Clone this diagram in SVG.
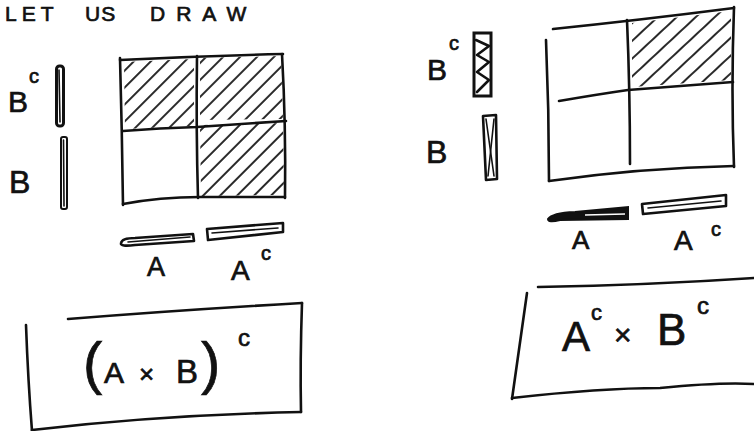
<svg xmlns="http://www.w3.org/2000/svg" width="754" height="431" viewBox="0 0 754 431">
<style>
.s{fill:none;stroke:#111;stroke-width:2.6;stroke-linecap:round;stroke-linejoin:round}
.t{stroke:#111;stroke-width:1.6;fill:none;stroke-linecap:round}
.h{fill:url(#hatch);stroke:none}
.h2{fill:url(#hatch2);stroke:none}
text{font-family:"Liberation Sans","DejaVu Sans",sans-serif;fill:#111;stroke:#111;stroke-width:0.7}
</style>
<defs>
<pattern id="hatch" patternUnits="userSpaceOnUse" width="12" height="12" patternTransform="rotate(45)">
<line x1="6" y1="0" x2="6" y2="12" stroke="#111" stroke-width="1.8"/>
</pattern>
<pattern id="hatch2" patternUnits="userSpaceOnUse" width="13" height="13" patternTransform="rotate(47)">
<line x1="6" y1="0" x2="6" y2="13" stroke="#111" stroke-width="1.8"/>
</pattern>
</defs>
<rect width="754" height="431" fill="#fff"/>

<g id="title">
<text font-size="21"><tspan x="5" y="21" letter-spacing="5">LET</tspan><tspan x="85" y="21" letter-spacing="1">US</tspan><tspan x="150" y="21" letter-spacing="11">DRAW</tspan></text>
</g>

<g id="left-grid">
<polygon class="h" points="124,62 194,59 194,126 125,129"/>
<polygon class="h" points="200,58 281,56 283,119 200,120"/>
<polygon class="h" points="200,125 283,123 284,195 201,196"/>
<path class="s" d="M120,60 Q200,56 283,54"/>
<path class="s" d="M282,54 Q286,125 285,198"/>
<path class="s" d="M123,204 Q160,197 200,197 L285,197"/>
<path class="s" d="M120,58 Q122,130 123,205"/>
<path class="s" d="M197,56 Q196,130 198,198"/>
<path class="s" d="M123,131 Q160,128 197,127 L286,121"/>
</g>

<g id="left-bc">
<text x="8" y="112" font-size="30">B</text>
<text x="29" y="83" font-size="20">c</text>
<rect x="56.5" y="66" width="7" height="60" rx="3" fill="#fff" stroke="#111" stroke-width="3"/>
<line class="t" x1="59" y1="70" x2="60" y2="122"/>
</g>
<g id="left-b">
<text x="9" y="193" font-size="32">B</text>
<rect x="61" y="137" width="6" height="72" rx="2" fill="none" stroke="#111" stroke-width="2"/>
<line class="t" x1="63.5" y1="140" x2="64" y2="206"/>
</g>
<g id="left-a">
<path class="s" stroke-width="2" d="M121,243 Q122,238 135,238 L193,234 L194,241 L135,245 Q120,247 121,243 Z"/>
<line class="t" x1="128" y1="242" x2="190" y2="237"/>
<text x="147" y="276" font-size="27">A</text>
</g>
<g id="left-ac">
<path class="s" stroke-width="2.2" d="M207,229 L283,223 L283,232 L208,240 Z"/>
<line class="t" x1="212" y1="233" x2="278" y2="228"/>
<text x="231" y="280" font-size="28">A</text>
<text x="261" y="260" font-size="20">c</text>
</g>

<g id="left-box">
<path class="s" d="M68,319 Q180,310 302,303"/>
<path class="s" d="M302,303 Q300,360 301,412"/>
<path class="s" d="M32,430 Q160,415 301,412"/>
<path class="s" d="M26,325 Q28,380 32,431"/>
<text y="383"><tspan x="83" font-size="58">(</tspan><tspan x="104" font-size="30">A</tspan><tspan x="139" font-size="26">×</tspan><tspan x="176" font-size="33">B</tspan><tspan x="201" font-size="58">)</tspan><tspan x="238" y="346" font-size="24">c</tspan></text>
</g>

<g id="right-grid">
<polygon class="h2" points="632,23 731,11 731,80 632,87"/>
<path class="s" d="M553,29 Q640,20 734,8"/>
<path class="s" d="M546,40 Q549,110 549,181"/>
<path class="s" d="M549,181 Q640,168 734,166"/>
<path class="s" d="M734,7 Q731,90 734,167"/>
<path class="s" d="M627,20 Q630,90 630,164"/>
<path class="s" d="M559,101 Q600,94 628,90 L733,82"/>
</g>

<g id="right-bc">
<text x="427" y="80" font-size="30">B</text>
<text x="449" y="50" font-size="20">c</text>
<rect x="474" y="33" width="17" height="63" fill="#fff" stroke="#111" stroke-width="3"/>
<polyline class="s" stroke-width="2.4" points="476,40 489,46 477,55 489,62 477,72 489,80 477,92"/>
</g>
<g id="right-b">
<text x="426" y="163" font-size="32">B</text>
<polygon class="s" stroke-width="2.4" points="483,116 496,115 497,179 486,180"/>
<line class="t" x1="486" y1="119" x2="494" y2="176"/>
<line class="t" x1="494" y1="119" x2="488" y2="176"/>
</g>
<g id="right-a">
<path d="M548,219 Q552,213 575,212 L628,207 L628,219 L560,220 Q548,223 548,219 Z" fill="#111" stroke="#111" stroke-width="2"/>
<line x1="585" y1="215" x2="625" y2="214" stroke="#fff" stroke-width="1.5"/>
<text x="572" y="249" font-size="26">A</text>
</g>
<g id="right-ac">
<path class="s" stroke-width="2.4" d="M642,204 L726,195 L726,206 L643,214 Z"/>
<line class="t" x1="648" y1="208" x2="721" y2="201"/>
<text x="674" y="250" font-size="28">A</text>
<text x="711" y="236" font-size="20">c</text>
</g>

<g id="right-box">
<path class="s" d="M538,287 Q650,285 754,278"/>
<path class="s" d="M527,293 L512,399"/>
<path class="s" d="M512,398 Q600,388 660,388 Q720,382 754,384"/>
<text y="351"><tspan x="562" font-size="42">A</tspan><tspan x="591" y="320" font-size="22">c</tspan><tspan x="614" y="345" font-size="30">×</tspan><tspan x="657" y="345" font-size="44">B</tspan><tspan x="697" y="314" font-size="24">c</tspan></text>
</g>
</svg>
